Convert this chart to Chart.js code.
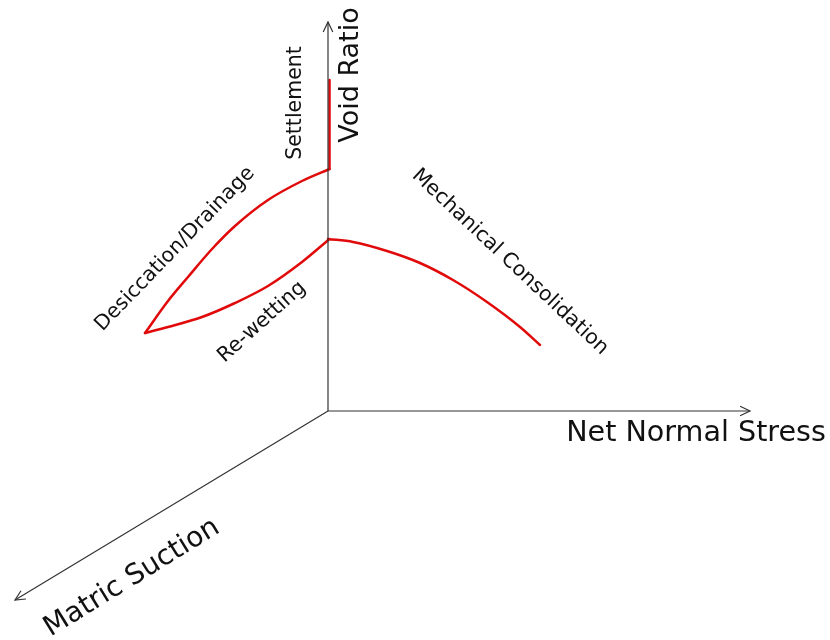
<!DOCTYPE html>
<html>
<head>
<meta charset="utf-8">
<script src="https://cdn.jsdelivr.net/npm/chart.js@4.4.1/dist/chart.umd.min.js"></script>
<style>
  html, body { margin: 0; padding: 0; background: #ffffff; }
  #wrap { width: 830px; height: 640px; position: relative; }
</style>
</head>
<body>
<div id="wrap"><canvas id="chart"></canvas></div>
<script>
// Schematic state paths in (net normal stress, void ratio) space, origin at the axes' corner.
// The third axis (matric suction) is drawn as an oblique projection.
const settlementPath = [[1.5, 331], [1.5, 242]];
const desiccationPath = [[1.5, 242], [-26, 230], [-60, 211], [-93, 185], [-116, 162], [-140, 134], [-160, 110], [-183, 78]];
const rewettingPath = [[-183, 78], [-160, 84], [-126, 94], [-93, 108], [-60, 125], [-26, 149], [1.5, 172]];
const consolidationPath = [[0, 172], [25, 169], [59, 160], [92, 148], [125, 131], [159, 109], [192, 84], [212, 66]];

// Axis directions
const voidRatioAxis = [[0, 0], [0, 389]];
const netStressAxis = [[0, 0], [422, 0]];
const suctionAxis = [[0, 0], [-313, -189]];

// Text annotations: [text, x, y, angle in degrees, font size]
const annotations = [
  ['Void Ratio', 23, 336, -90, 27],
  ['Settlement', -32, 308, -90, 20.5],
  ['Desiccation/Drainage', -153, 162, -46, 20.5],
  ['Re-wetting', -66, 89, -42, 20.5],
  ['Mechanical Consolidation', 182, 149, 43.2, 20.5],
  ['Net Normal Stress', 368, -23, 0, 28.6],
  ['Matric Suction', -196, -167, -31.7, 28]
];

const toPts = arr => arr.map(([x, y]) => ({ x, y }));

const RED = '#e10a0a';
const AXIS = '#333333';

function curve(path, smooth) {
  return {
    data: toPts(path), showLine: true, borderColor: RED, borderWidth: 2.5,
    pointRadius: 0, tension: smooth ? 0.4 : 0,
    cubicInterpolationMode: smooth ? 'monotone' : 'default',
    fill: false, borderCapStyle: 'round', borderJoinStyle: 'round'
  };
}
function axis(path) {
  return {
    data: toPts(path), showLine: true, borderColor: AXIS, borderWidth: 1.2,
    pointRadius: 0, tension: 0, fill: false, isAxis: true
  };
}

const arrowPlugin = {
  id: 'axisArrows',
  afterDatasetsDraw(chart) {
    const { ctx, scales: { x, y } } = chart;
    chart.data.datasets.forEach(ds => {
      if (!ds.isAxis) return;
      const n = ds.data.length;
      const a = ds.data[n - 2], b = ds.data[n - 1];
      const x0 = x.getPixelForValue(a.x), y0 = y.getPixelForValue(a.y);
      const x1 = x.getPixelForValue(b.x), y1 = y.getPixelForValue(b.y);
      const ang = Math.atan2(y1 - y0, x1 - x0);
      const len = 11, spread = 0.45;
      ctx.save();
      ctx.strokeStyle = AXIS;
      ctx.lineWidth = 1.2;
      ctx.beginPath();
      ctx.moveTo(x1 - len * Math.cos(ang - spread), y1 - len * Math.sin(ang - spread));
      ctx.lineTo(x1, y1);
      ctx.lineTo(x1 - len * Math.cos(ang + spread), y1 - len * Math.sin(ang + spread));
      ctx.stroke();
      ctx.restore();
    });
  }
};

const labelPlugin = {
  id: 'diagramLabels',
  afterDraw(chart) {
    const { ctx, scales: { x, y } } = chart;
    annotations.forEach(([text, vx, vy, deg, size]) => {
      ctx.save();
      ctx.translate(x.getPixelForValue(vx), y.getPixelForValue(vy));
      ctx.rotate(deg * Math.PI / 180);
      ctx.font = size + 'px "DejaVu Sans", Verdana, sans-serif';
      ctx.fillStyle = '#111111';
      ctx.textAlign = 'center';
      ctx.textBaseline = 'middle';
      ctx.fillText(text, 0, 0);
      ctx.restore();
    });
  }
};

new Chart(document.getElementById('chart'), {
  type: 'scatter',
  data: {
    datasets: [
      axis(voidRatioAxis), axis(netStressAxis), axis(suctionAxis),
      curve(settlementPath, false), curve(desiccationPath, true),
      curve(rewettingPath, true), curve(consolidationPath, true)
    ]
  },
  options: {
    responsive: true,
    maintainAspectRatio: false,
    animation: false,
    layout: { padding: 0 },
    plugins: { legend: { display: false }, tooltip: { enabled: false } },
    scales: {
      x: { type: 'linear', min: -328, max: 502, display: false },
      y: { type: 'linear', min: -229, max: 411, display: false }
    }
  },
  plugins: [arrowPlugin, labelPlugin]
});
</script>
</body>
</html>
